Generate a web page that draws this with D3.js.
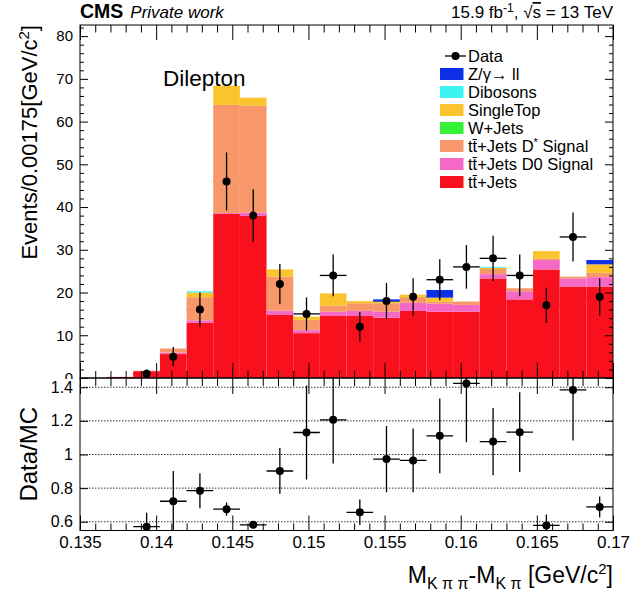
<!DOCTYPE html>
<html><head><meta charset="utf-8">
<script src="https://cdn.jsdelivr.net/npm/d3@7"></script>
<style>
body{margin:0;background:#fff;}
text{font-family:"Liberation Sans",Arial,Helvetica,sans-serif;fill:#000;}
</style></head>
<body><svg id="c" width="630" height="595"></svg>
<script>
// ---------- data ----------
const binEdges = [0.135,0.13675,0.1385,0.14025,0.142,0.14375,0.1455,0.14725,0.149,0.15075,0.1525,
                  0.15425,0.156,0.15775,0.1595,0.16125,0.163,0.16475,0.1665,0.16825,0.17];
const ttJets   = [0,0.25,1.6,5.6,12.9,38.4,37.9,14.75,10.5,14.5,14.5,14.1,15.7,15.5,15.5,23.3,18.4,25.4,21.4,21.4];
const ttD0     = [0,0,0.05,0.35,0.6,0.2,0.8,1.0,0.7,1.0,1.2,1.4,1.9,1.9,1.6,1.0,1.9,2.2,1.9,2.2];
const ttDstar  = [0,0,0.05,0.95,5.4,25.3,25.0,7.95,2.4,1.4,1.8,2.0,1.2,0.4,0.8,1.2,0.7,0.3,0.4,1.0];
const wJets    = [0,0,0,0,0,0,0,0,0,0,0,0,0,0,0,0,0,0,0,0];
const singleTop= [0,0,0,0,1.1,4.5,1.9,1.7,0.75,2.9,0.5,0.4,0.7,1.0,0,0.3,0,1.8,0,2.0];
const dibosons = [0,0,0,0,0.3,0,0,0,0,0,0,0,0,0,0,0.2,0,0,0,0];
const zll      = [0,0,0,0,0,0,0,0,0,0,0,0.5,0,1.8,0,0,0,0,0,1.0];
const dataCounts = [0,0,1,5,16,46,38,22,15,24,12,18,19,23,26,28,24,17,33,19];
const ratio    = [null,null,0.571,0.722,0.785,0.675,0.582,0.902,1.131,1.206,0.656,0.973,0.965,1.111,1.423,1.077,1.133,0.578,1.384,0.688];
const ratioErr = [null,null,0.083,0.18,0.104,0.04,0.02,0.136,0.28,0.26,0.076,0.197,0.19,0.222,0.35,0.2,0.237,0.065,0.3,0.062];
const yTicksTop = [0,10,20,30,40,50,60,70,80];
const yTicksRatio = [0.6,0.8,1,1.2,1.4];
const xTickLabels = [0.135,0.14,0.145,0.15,0.155,0.16,0.165,0.17];

const stackKeys = ["tt","d0","dstar","w","st","vv","z"];
const series = {tt:ttJets,d0:ttD0,dstar:ttDstar,w:wJets,st:singleTop,vv:dibosons,z:zll};
const colors = {tt:"#f8101c",d0:"#f668c6",dstar:"#f8986a",w:"#36f236",st:"#fbc42e",vv:"#3cf4f4",z:"#0b30e8"};
const legendEntries = [
  {k:"z",   label:[["Z/γ→ ll"]]},
  {k:"vv",  label:[["Dibosons"]]},
  {k:"st",  label:[["SingleTop"]]},
  {k:"w",   label:[["W+Jets"]]},
  {k:"dstar",label:[["tt̄+Jets D"],["*","sup"],[" Signal"]]},
  {k:"d0",  label:[["tt̄+Jets D0 Signal"]]},
  {k:"tt",  label:[["tt̄+Jets"]]}
];

// ---------- layout ----------
const L=80,R=613,T=25,B1=378,B2=530.5;
const svg=d3.select("#c");
const x=d3.scaleLinear().domain([0.135,0.17]).range([L,R]);
const y=d3.scaleLinear().domain([0,82.6]).range([B1,T]);
const yr=d3.scaleLinear().domain([0.548,1.455]).range([B2,B1]);

const bins=d3.range(20).map(i=>{
  const o={i,lo:binEdges[i],hi:binEdges[i+1],c:(binEdges[i]+binEdges[i+1])/2,data:dataCounts[i],ratio:ratio[i],rerr:ratioErr[i]};
  stackKeys.forEach(k=>o[k]=series[k][i]);return o;});
const stacked=d3.stack().keys(stackKeys)(bins);

svg.append("defs").html(`<clipPath id="cpTop"><rect x="${L}" y="${T}" width="${R-L}" height="${B1-T}"/></clipPath>
<clipPath id="cpBot"><rect x="${L}" y="${B1}" width="${R-L}" height="${B2-B1}"/></clipPath>
<clipPath id="cpLab"><rect x="0" y="0" width="${L}" height="${B1+0.5}"/></clipPath>`);

// ---------- top panel ----------
const gTop=svg.append("g").attr("clip-path","url(#cpTop)");
const dataBins=bins.filter(d=>d.data>0);
gTop.append("g").selectAll("line").data(dataBins).join("line")
 .attr("x1",d=>x(d.lo)).attr("x2",d=>x(d.hi)).attr("y1",d=>y(d.data)).attr("y2",d=>y(d.data))
 .attr("stroke","#000").attr("stroke-width",1.3);
gTop.append("g").selectAll("g").data(stacked).join("g").attr("fill",s=>colors[s.key])
 .selectAll("rect").data(s=>s.filter(p=>p[1]-p[0]>0)).join("rect")
 .attr("x",p=>x(p.data.lo)).attr("width",p=>x(p.data.hi)-x(p.data.lo))
 .attr("y",p=>y(p[1])).attr("height",p=>y(p[0])-y(p[1]));
gTop.append("g").selectAll("line").data(dataBins).join("line")
 .attr("x1",d=>x(d.c)).attr("x2",d=>x(d.c)).attr("y1",d=>y(d.data+Math.sqrt(d.data))).attr("y2",d=>y(Math.max(0,d.data-Math.sqrt(d.data))))
 .attr("stroke","#000").attr("stroke-width",1.3);
gTop.append("g").selectAll("circle").data(dataBins).join("circle")
 .attr("cx",d=>x(d.c)).attr("cy",d=>y(d.data)).attr("r",4).attr("fill","#000");

// ---------- bottom panel ----------
const gBot=svg.append("g").attr("clip-path","url(#cpBot)");
gBot.append("g").selectAll("line").data(yTicksRatio).join("line")
 .attr("x1",L).attr("x2",R).attr("y1",d=>yr(d)).attr("y2",d=>yr(d))
 .attr("stroke","#333").attr("stroke-width",1).attr("stroke-dasharray","1.5,1.5");
const rBins=bins.filter(d=>d.ratio!=null);
gBot.append("g").selectAll("line").data(rBins).join("line")
 .attr("x1",d=>x(d.lo)).attr("x2",d=>x(d.hi)).attr("y1",d=>yr(d.ratio)).attr("y2",d=>yr(d.ratio))
 .attr("stroke","#000").attr("stroke-width",1.3);
gBot.append("g").selectAll("line.v").data(rBins).join("line")
 .attr("x1",d=>x(d.c)).attr("x2",d=>x(d.c)).attr("y1",d=>yr(d.ratio+d.rerr)).attr("y2",d=>yr(d.ratio-d.rerr))
 .attr("stroke","#000").attr("stroke-width",1.3);
gBot.append("g").selectAll("circle").data(rBins).join("circle")
 .attr("cx",d=>x(d.c)).attr("cy",d=>yr(d.ratio)).attr("r",4).attr("fill","#000");

// ---------- axes ----------
const xMajor=[0.135,0.14,0.145,0.15,0.155,0.16,0.165,0.17];
const xMinor=d3.range(36).map(i=>0.135+i*0.001).filter(v=>!xMajor.some(m=>Math.abs(m-v)<1e-9));
function strip(g){g.select(".domain").remove();g.selectAll("line").attr("stroke","#000");g.selectAll("text").attr("fill","#000");}
function xAx(yPos,dir,maj,min){
  svg.append("g").attr("transform",`translate(0,${yPos})`).call(dir(x).tickValues(xMajor).tickSize(maj).tickFormat("")).call(strip);
  svg.append("g").attr("transform",`translate(0,${yPos})`).call(dir(x).tickValues(xMinor).tickSize(min).tickFormat("")).call(strip);
}
xAx(T,d3.axisBottom,15,7.5);
xAx(B1,d3.axisTop,15,7);
xAx(B1,d3.axisBottom,16,8);
xAx(B2,d3.axisTop,15,7);
const gxl=svg.append("g").attr("transform",`translate(0,${B2})`)
 .call(d3.axisBottom(x).tickValues(xTickLabels).tickSize(0).tickPadding(5).tickFormat(d=>String(+d.toFixed(3))));
gxl.call(strip); gxl.selectAll("text").attr("font-size",17).attr("font-family","Liberation Sans, Arial, sans-serif");

// top y axis
const yMinor=d3.range(0,83,2).filter(v=>v%10!==0);
const gyl=svg.append("g").attr("transform",`translate(${L},0)`)
 .call(d3.axisLeft(y).tickValues(yTicksTop).tickSizeInner(-8).tickSizeOuter(0).tickPadding(7));
gyl.call(strip); gyl.selectAll("text").attr("font-size",15).attr("font-family","Liberation Sans, Arial, sans-serif");
gyl.selectAll(".tick").filter(d=>d===0).select("text").attr("clip-path","url(#cpLabLocal)");
svg.append("defs").html(`<clipPath id="cpLabLocal"><rect x="-40" y="-20" width="40" height="20.5"/></clipPath>`);
svg.append("g").attr("transform",`translate(${L},0)`).call(d3.axisLeft(y).tickValues(yMinor).tickSizeInner(-4).tickFormat("")).call(strip);
svg.append("g").attr("transform",`translate(${R},0)`).call(d3.axisRight(y).tickValues(yTicksTop).tickSizeInner(-8).tickFormat("")).call(strip);
svg.append("g").attr("transform",`translate(${R},0)`).call(d3.axisRight(y).tickValues(yMinor).tickSizeInner(-4).tickFormat("")).call(strip);

// ratio y axis
const gyr=svg.append("g").attr("transform",`translate(${L},0)`)
 .call(d3.axisLeft(yr).tickValues(yTicksRatio).tickSizeInner(-8).tickPadding(7).tickFormat(d=>d===1?"1":d3.format(".1f")(d)));
gyr.call(strip); gyr.selectAll("text").attr("font-size",16).attr("font-family","Liberation Sans, Arial, sans-serif");
svg.append("g").attr("transform",`translate(${R},0)`).call(d3.axisRight(yr).tickValues(yTicksRatio).tickSizeInner(-8).tickFormat("")).call(strip);

// frames
svg.append("rect").attr("x",L).attr("y",T).attr("width",R-L).attr("height",B1-T).attr("fill","none").attr("stroke","#000").attr("stroke-width",1);
svg.append("rect").attr("x",L).attr("y",B1).attr("width",R-L).attr("height",B2-B1).attr("fill","none").attr("stroke","#000").attr("stroke-width",1);

// ---------- texts ----------
const hdr=svg.append("text").attr("x",L).attr("y",18);
hdr.append("tspan").attr("font-weight","bold").attr("font-size",19.5).text("CMS");
hdr.append("tspan").attr("font-style","italic").attr("font-size",17).attr("dx",7).text("Private work");

const lum=svg.append("text").attr("x",R).attr("y",18).attr("text-anchor","end").attr("font-size",17);
lum.append("tspan").text("15.9 fb");
lum.append("tspan").attr("font-size",12).attr("dy",-6).text("-1");
lum.append("tspan").attr("dy",6).text(", √");
lum.append("tspan").attr("text-decoration","overline").text("s");
lum.append("tspan").text(" = 13 TeV");

svg.append("text").attr("x",163).attr("y",86).attr("font-size",22.5).text("Dilepton");

const yt=svg.append("text").attr("transform","translate(37,25) rotate(-90)").attr("text-anchor","end").attr("font-size",22);
yt.append("tspan").text("Events/0.00175[GeV/c");
yt.append("tspan").attr("font-size",15).attr("dy",-8).text("2");
yt.append("tspan").attr("dy",8).text("]");

svg.append("text").attr("transform",`translate(37,${(B1+B2)/2}) rotate(-90)`).attr("text-anchor","middle").attr("font-size",24).text("Data/MC");

const xt=svg.append("text").attr("x",R).attr("y",583).attr("text-anchor","end").attr("font-size",23);
xt.append("tspan").text("M");
xt.append("tspan").attr("font-size",16).attr("dy",6).text("K π π");
xt.append("tspan").attr("dy",-6).text("-M");
xt.append("tspan").attr("font-size",16).attr("dy",6).text("K π");
xt.append("tspan").attr("dy",-6).text(" [GeV/c");
xt.append("tspan").attr("font-size",15).attr("dy",-9).text("2");
xt.append("tspan").attr("dy",9).text("]");

// ---------- legend ----------
const lg=svg.append("g");
const lx=440,lt=468,ly0=56,ldy=18;
lg.append("line").attr("x1",445).attr("x2",466).attr("y1",ly0).attr("y2",ly0).attr("stroke","#000").attr("stroke-width",1.3);
lg.append("circle").attr("cx",455.5).attr("cy",ly0).attr("r",4).attr("fill","#000");
lg.append("text").attr("x",lt).attr("y",ly0).attr("dy","0.36em").attr("font-size",16.5).text("Data");
legendEntries.forEach((e,j)=>{
  const yy=ly0+ldy*(j+1);
  lg.append("rect").attr("x",lx).attr("y",yy-6).attr("width",23.5).attr("height",12).attr("fill",colors[e.k]);
  const t=lg.append("text").attr("x",lt).attr("y",yy).attr("dy","0.36em").attr("font-size",16.5);
  e.label.forEach(p=>{
    const ts=t.append("tspan").text(p[0]);
    if(p[1]==="sup") ts.attr("font-size",11).attr("dy",-6);
  });
  if(e.label.length>1){ t.selectAll("tspan").filter((d,i)=>i===2).attr("dy",6); }
});
</script></body></html>
